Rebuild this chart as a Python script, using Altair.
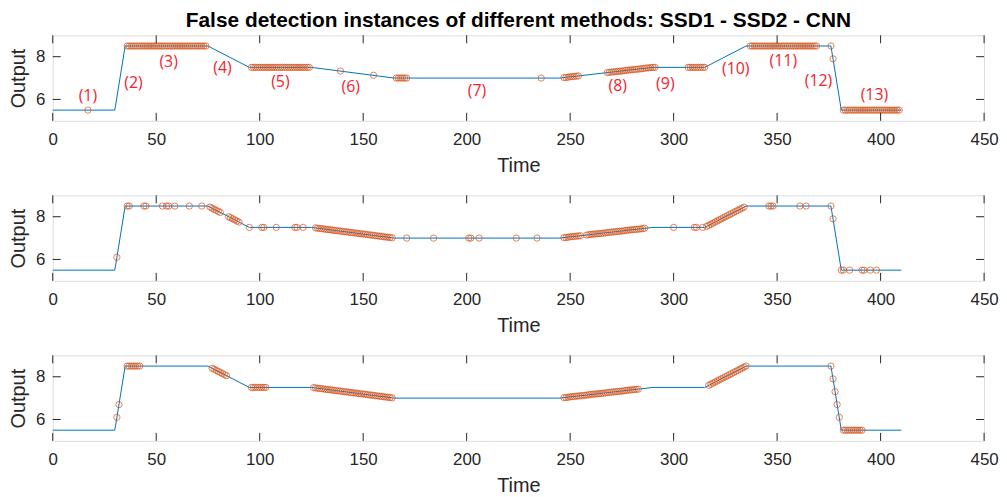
import altair as alt
import pandas as pd

# ---- reference signal (blue line), same for all three panels ----
line_t = [0, 30, 35, 75, 95, 125, 165, 245, 290, 315, 335, 376, 381, 410]
line_y = [5.5, 5.5, 8.5, 8.5, 7.5, 7.5, 7.0, 7.0, 7.5, 7.5, 8.5, 8.5, 5.5, 5.5]

# ---- false detection instances (time, output) ----
ssd1_pts = [
    (17, 5.5),
    (36, 8.5), (37, 8.5), (38, 8.5), (39, 8.5), (40, 8.5), (41, 8.5), (42, 8.5), (43, 8.5), (44, 8.5), (45, 8.5),
    (46, 8.5), (47, 8.5), (48, 8.5), (49, 8.5), (50, 8.5), (51, 8.5), (52, 8.5), (53, 8.5), (54, 8.5), (55, 8.5),
    (56, 8.5), (57, 8.5), (58, 8.5), (59, 8.5), (60, 8.5), (61, 8.5), (62, 8.5), (63, 8.5), (64, 8.5), (65, 8.5),
    (66, 8.5), (67, 8.5), (68, 8.5), (69, 8.5), (70, 8.5), (71, 8.5), (72, 8.5), (73, 8.5), (74, 8.5),
    (96, 7.5), (97, 7.5), (98, 7.5), (99, 7.5), (100, 7.5), (101, 7.5), (102, 7.5), (103, 7.5), (104, 7.5), (105, 7.5),
    (106, 7.5), (107, 7.5), (108, 7.5), (109, 7.5), (110, 7.5), (111, 7.5), (112, 7.5), (113, 7.5), (114, 7.5), (115, 7.5),
    (116, 7.5), (117, 7.5), (118, 7.5), (119, 7.5), (120, 7.5), (121, 7.5), (122, 7.5), (123, 7.5), (124, 7.5),
    (139, 7.33), (155, 7.13),
    (166, 7.0), (167, 7.0), (168, 7.0), (169, 7.0), (170, 7.0), (171, 7.0),
    (236, 7.0),
    (247, 7.02), (248, 7.03), (249, 7.04), (250, 7.06), (251, 7.07), (252, 7.08), (253, 7.09), (254, 7.10),
    (268, 7.26), (269, 7.27), (270, 7.28), (271, 7.29), (272, 7.30), (273, 7.31), (274, 7.32), (275, 7.33),
    (276, 7.34), (277, 7.36), (278, 7.37), (279, 7.38), (280, 7.39), (281, 7.40), (282, 7.41), (283, 7.42),
    (284, 7.43), (285, 7.44), (286, 7.46), (287, 7.47), (288, 7.48), (289, 7.49), (290, 7.50), (291, 7.50),
    (307, 7.5), (308, 7.5), (309, 7.5), (310, 7.5), (311, 7.5), (312, 7.5), (313, 7.5), (314, 7.5), (315, 7.5),
    (337, 8.5), (338, 8.5), (339, 8.5), (340, 8.5), (341, 8.5), (342, 8.5), (343, 8.5), (344, 8.5), (345, 8.5), (346, 8.5),
    (347, 8.5), (348, 8.5), (349, 8.5), (350, 8.5), (351, 8.5), (352, 8.5), (353, 8.5), (354, 8.5), (355, 8.5), (356, 8.5),
    (357, 8.5), (358, 8.5), (359, 8.5), (360, 8.5), (361, 8.5), (362, 8.5), (363, 8.5), (364, 8.5), (365, 8.5), (366, 8.5),
    (367, 8.5), (368, 8.5), (369, 8.5),
    (376, 8.5), (377, 7.9),
    (382, 5.5), (383, 5.5), (384, 5.5), (385, 5.5), (386, 5.5), (387, 5.5), (388, 5.5), (389, 5.5), (390, 5.5), (391, 5.5),
    (392, 5.5), (393, 5.5), (394, 5.5), (395, 5.5), (396, 5.5), (397, 5.5), (398, 5.5), (399, 5.5), (400, 5.5), (401, 5.5),
    (402, 5.5), (403, 5.5), (404, 5.5), (405, 5.5), (406, 5.5), (407, 5.5), (408, 5.5), (409, 5.5),
]

ssd2_pts = [
    (31, 6.1), (36, 8.5), (37, 8.5), (44, 8.5), (45, 8.5), (53, 8.5), (55, 8.5), (56, 8.5), (59, 8.5), (66, 8.5), (72, 8.5),
    (76, 8.45), (77, 8.40), (78, 8.35), (79, 8.30), (80, 8.25), (81, 8.20),
    (85, 8.00), (86, 7.95), (87, 7.90), (88, 7.85), (89, 7.80), (90, 7.75),
    (95, 7.5), (101, 7.5), (102, 7.5), (108, 7.5), (117, 7.5), (118, 7.5), (121, 7.5),
    (127, 7.48), (128, 7.46), (129, 7.45), (130, 7.44), (131, 7.43), (132, 7.41), (133, 7.40), (134, 7.39), (135, 7.38), (136, 7.36),
    (137, 7.35), (138, 7.34), (139, 7.33), (140, 7.31), (141, 7.30), (142, 7.29), (143, 7.28), (144, 7.26), (145, 7.25), (146, 7.24),
    (147, 7.23), (148, 7.21), (149, 7.20), (150, 7.19), (151, 7.18), (152, 7.16), (153, 7.15), (154, 7.14), (155, 7.13), (156, 7.11),
    (157, 7.10), (158, 7.09), (159, 7.08), (160, 7.06), (161, 7.05), (162, 7.04), (163, 7.03), (164, 7.01),
    (171, 7.0), (184, 7.0), (201, 7.0), (202, 7.0), (206, 7.0), (224, 7.0), (234, 7.0),
    (247, 7.02), (248, 7.03), (249, 7.04), (250, 7.06), (251, 7.07), (252, 7.08), (253, 7.09), (254, 7.10), (255, 7.11),
    (258, 7.14), (259, 7.16), (260, 7.17), (261, 7.18), (262, 7.19), (263, 7.20), (264, 7.21), (265, 7.22), (266, 7.23), (267, 7.24),
    (268, 7.26), (269, 7.27), (270, 7.28), (271, 7.29), (272, 7.30), (273, 7.31), (274, 7.32), (275, 7.33), (276, 7.34), (277, 7.36),
    (278, 7.37), (279, 7.38), (280, 7.39), (281, 7.40), (282, 7.41), (283, 7.42), (284, 7.43), (285, 7.44), (286, 7.46),
    (300, 7.5), (310, 7.5), (311, 7.5), (314, 7.5), (316, 7.55),
    (317, 7.60), (318, 7.65), (319, 7.70), (320, 7.75), (321, 7.80), (322, 7.85), (323, 7.90), (324, 7.95), (325, 8.00),
    (326, 8.05), (327, 8.10), (328, 8.15), (329, 8.20), (330, 8.25), (331, 8.30), (332, 8.35), (333, 8.40), (334, 8.45),
    (346, 8.5), (347, 8.5), (348, 8.5), (361, 8.5), (364, 8.5), (376, 8.5), (377, 7.9),
    (381, 5.5), (382, 5.5), (385, 5.5), (391, 5.5), (392, 5.5), (395, 5.5), (398, 5.5),
]

cnn_pts = [
    (31, 6.1), (32, 6.7),
    (36, 8.5), (37, 8.5), (38, 8.5), (39, 8.5), (40, 8.5), (41, 8.5), (42, 8.5),
    (77, 8.40), (78, 8.35), (79, 8.30), (80, 8.25), (81, 8.20), (82, 8.15), (83, 8.10), (84, 8.05),
    (96, 7.5), (97, 7.5), (98, 7.5), (99, 7.5), (100, 7.5), (101, 7.5), (102, 7.5), (103, 7.5),
    (126, 7.49), (127, 7.48), (128, 7.46), (129, 7.45), (130, 7.44), (131, 7.43), (132, 7.41), (133, 7.40), (134, 7.39), (135, 7.38),
    (136, 7.36), (137, 7.35), (138, 7.34), (139, 7.33), (140, 7.31), (141, 7.30), (142, 7.29), (143, 7.28), (144, 7.26), (145, 7.25),
    (146, 7.24), (147, 7.23), (148, 7.21), (149, 7.20), (150, 7.19), (151, 7.18), (152, 7.16), (153, 7.15), (154, 7.14), (155, 7.13),
    (156, 7.11), (157, 7.10), (158, 7.09), (159, 7.08), (160, 7.06), (161, 7.05), (162, 7.04), (163, 7.03), (164, 7.01),
    (247, 7.02), (248, 7.03), (249, 7.04), (250, 7.06), (251, 7.07), (252, 7.08), (253, 7.09), (254, 7.10), (255, 7.11), (256, 7.12),
    (257, 7.13), (258, 7.14), (259, 7.16), (260, 7.17), (261, 7.18), (262, 7.19), (263, 7.20), (264, 7.21), (265, 7.22), (266, 7.23),
    (267, 7.24), (268, 7.26), (269, 7.27), (270, 7.28), (271, 7.29), (272, 7.30), (273, 7.31), (274, 7.32), (275, 7.33), (276, 7.34),
    (277, 7.36), (278, 7.37), (279, 7.38), (280, 7.39), (281, 7.40), (282, 7.41), (283, 7.42),
    (317, 7.60), (318, 7.65), (319, 7.70), (320, 7.75), (321, 7.80), (322, 7.85), (323, 7.90), (324, 7.95), (325, 8.00),
    (326, 8.05), (327, 8.10), (328, 8.15), (329, 8.20), (330, 8.25), (331, 8.30), (332, 8.35), (333, 8.40), (334, 8.45), (335, 8.5),
    (376, 8.5), (377, 7.9), (378, 7.3), (379, 6.7), (380, 6.1),
    (382, 5.5), (383, 5.5), (384, 5.5), (385, 5.5), (386, 5.5), (387, 5.5), (388, 5.5), (389, 5.5), (390, 5.5), (391, 5.5),
]

# ---- segment annotations in the first panel ----
seg_labels = ["(1)", "(2)", "(3)", "(4)", "(5)", "(6)", "(7)", "(8)", "(9)", "(10)", "(11)", "(12)", "(13)"]
seg_t = [17, 39, 56, 82, 110, 144, 205, 273, 296, 330, 353, 370, 397]
seg_y = [6.18, 6.78, 7.76, 7.48, 6.80, 6.60, 6.40, 6.62, 6.70, 7.42, 7.79, 6.86, 6.21]

x_ticks = [0, 50, 100, 150, 200, 250, 300, 350, 400, 450]
y_ticks = [6, 8]

TITLE = "False detection instances of different methods: SSD1 - SSD2 - CNN"
W, H = 937, 86
AXC = "#262626"
FONT = "Liberation Sans"


def panel(pts, labels=False, title=None):
    xs = alt.Scale(domain=[0, 450], nice=False, zero=False)
    ys = alt.Scale(domain=[5, 9], nice=False, zero=False)
    xaxis = alt.Axis(values=x_ticks, title="Time", grid=False, ticks=False, domain=False,
                     labelFontSize=17, titleFontSize=20, labelPadding=11, titlePadding=8,
                     labelFlush=False, labelOverlap=False,
                     labelColor=AXC, titleColor=AXC, titleFontWeight="normal",
                     labelFont=FONT, titleFont=FONT, format="d")
    yaxis = alt.Axis(values=y_ticks, title="Output", grid=False, ticks=False, domain=False,
                     labelFontSize=17, titleFontSize=20, labelPadding=8, titlePadding=7,
                     labelColor=AXC, titleColor=AXC, titleFontWeight="normal",
                     labelFont=FONT, titleFont=FONT, format="d")
    line_df = pd.DataFrame({"t": line_t, "y": line_y})
    pts_df = pd.DataFrame(pts, columns=["t", "y"])
    line = alt.Chart(line_df).mark_line(color="#0072BD", strokeWidth=1).encode(
        x=alt.X("t:Q", scale=xs, axis=xaxis),
        y=alt.Y("y:Q", scale=ys, axis=yaxis),
    )
    points = alt.Chart(pts_df).mark_point(shape="circle", filled=False, color="#D95319",
                                          size=40, strokeWidth=0.8, opacity=0.9).encode(
        x=alt.X("t:Q"), y=alt.Y("y:Q"))
    tx_df = pd.DataFrame({"t": x_ticks})
    ty_df = pd.DataFrame({"y": y_ticks})
    tb = alt.Chart(tx_df).mark_rule(color=AXC, strokeWidth=1).encode(
        x=alt.X("t:Q"), y=alt.value(H), y2=alt.value(H - 8))
    tt = alt.Chart(tx_df).mark_rule(color=AXC, strokeWidth=1).encode(
        x=alt.X("t:Q"), y=alt.value(0), y2=alt.value(8))
    tl = alt.Chart(ty_df).mark_rule(color=AXC, strokeWidth=1).encode(
        y=alt.Y("y:Q"), x=alt.value(0), x2=alt.value(8))
    tr = alt.Chart(ty_df).mark_rule(color=AXC, strokeWidth=1).encode(
        y=alt.Y("y:Q"), x=alt.value(W), x2=alt.value(W - 8))
    layers = [line, points, tb, tt, tl, tr]
    if labels:
        lab_df = pd.DataFrame({"t": seg_t, "y": seg_y, "label": seg_labels})
        txt = alt.Chart(lab_df).mark_text(font="Open Sans", fontSize=16, color="#F5222D",
                                          align="center", baseline="middle").encode(
            x=alt.X("t:Q"), y=alt.Y("y:Q"), text="label:N")
        layers.append(txt)
    ch = alt.layer(*layers).properties(width=W, height=H)
    if title:
        ch = ch.properties(title=alt.TitleParams(title, fontSize=21, fontWeight="bold", font=FONT,
                                                 color="#000000", offset=4, anchor="middle"))
    return ch


p1 = panel(ssd1_pts, labels=True, title=TITLE)
p2 = panel(ssd2_pts)
p3 = panel(cnn_pts)

chart = alt.vconcat(p1, p2, p3, spacing=18).properties(
    padding={"left": 0, "top": 0, "right": 0, "bottom": 0}
).configure_view(stroke=AXC, strokeWidth=1).configure(background="white")

chart.save("out.html", embed_options={"renderer": "svg", "actions": False})
